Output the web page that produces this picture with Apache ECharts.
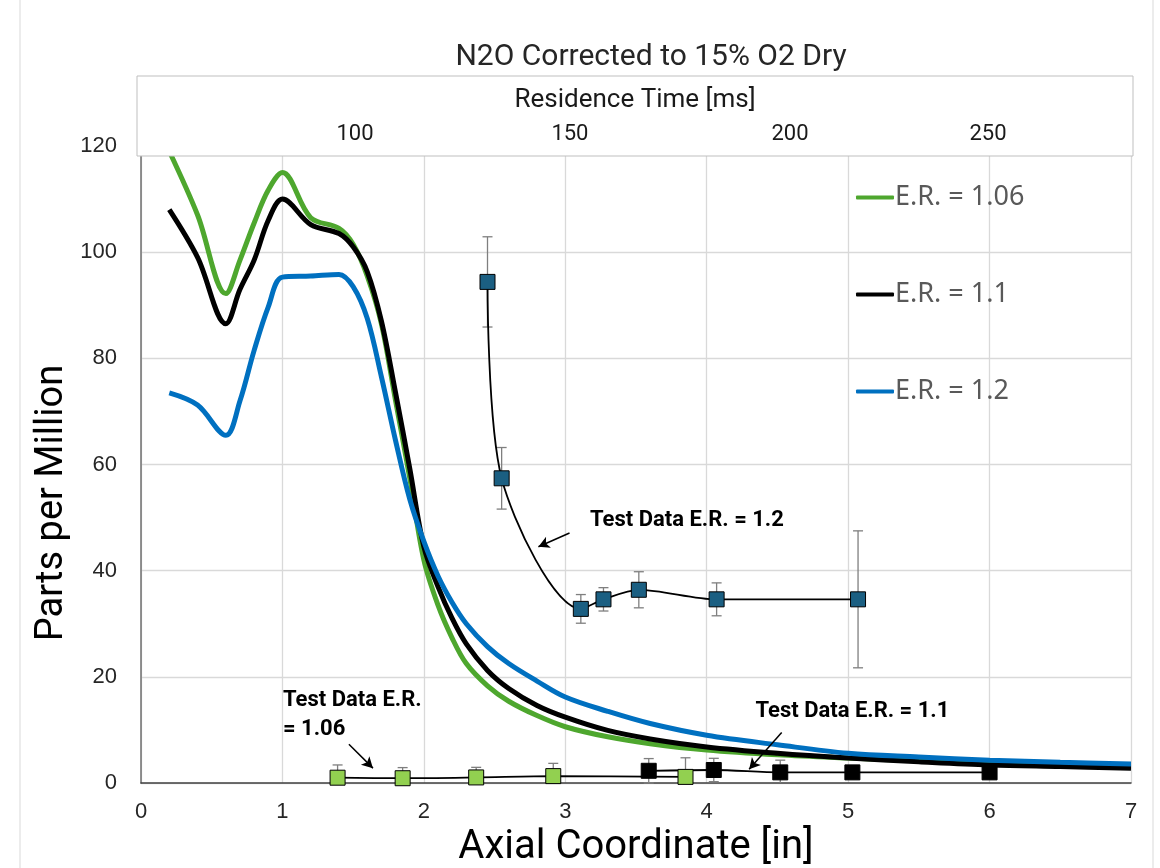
<!DOCTYPE html>
<html>
<head>
<meta charset="utf-8">
<title>N2O Corrected to 15% O2 Dry</title>
<script src="https://cdn.jsdelivr.net/npm/echarts@6/dist/echarts.min.js"></script>
<style>
  html, body { margin: 0; padding: 0; background: #fff; }
  #chart { width: 1160px; height: 868px; }
</style>
</head>
<body>
<div id="chart"></div>
<script>
// model curves (axial coordinate in inches, ppm)
const modelAxial = [0.2, 0.4, 0.6, 0.7, 0.8, 0.9, 1.0, 1.2, 1.4, 1.5, 1.6, 1.7, 1.8, 1.9, 2.0, 2.1, 2.2, 2.3, 2.45, 2.6, 2.8, 3.0, 3.3, 3.6, 4.0, 4.5, 5.0, 5.5, 6.0, 6.5, 7.0]
const er106 = [119, 107, 92.2, 98.5, 105.5, 111.7, 115, 106.5, 104.5, 101.5, 95.5, 86.5, 72, 57.5, 42, 33.5, 27.3, 22.5, 18.3, 15.4, 12.7, 10.6, 8.7, 7.4, 6.2, 5.3, 4.7, 4.2, 3.7, 3.3, 3.0]
const er110 = [108, 99, 86.5, 93, 98.5, 106, 110, 105.2, 103.5, 101, 96.3, 87, 73.5, 59.3, 44.5, 37, 31, 26.2, 21.2, 17.8, 14.6, 12.4, 9.9, 8.3, 6.8, 5.6, 4.7, 4.0, 3.4, 3.1, 2.8]
const er120 = [73.5, 71.2, 65.5, 72, 81.5, 89.7, 95.3, 95.5, 95.8, 93.5, 87.5, 76.5, 64.5, 53.5, 45.5, 39, 34, 30, 25.7, 22.5, 19.2, 16.2, 13.5, 11.2, 9.0, 7.2, 5.6, 4.9, 4.3, 3.9, 3.6]

// test data with error (half range)
const test120X = [2.45, 2.55, 3.11, 3.27, 3.52, 4.07, 5.07]
const test120Y = [94.4, 57.4, 32.8, 34.6, 36.4, 34.6, 34.6]
const test120Err = [8.5, 5.8, 2.7, 2.2, 3.4, 3.1, 12.9]

const test106X = [1.39, 1.85, 2.37, 2.915, 3.85]
const test106Y = [1.0, 0.9, 1.05, 1.3, 1.15]
const test106Err = [2.4, 2.0, 1.9, 2.4, 3.6]

const test110X = [3.59, 4.05, 4.52, 5.03, 6.0]
const test110Y = [2.3, 2.45, 2.0, 2.0, 2.0]
const test110Err = [2.3, 2.2, 2.3, 0.6, 0.3]

// secondary (top) axis: residence time labels and where they sit along the axial axis
const residenceTimeLabels = [100, 150, 200, 250]
const residenceTimeAt = [1.513, 3.033, 4.589, 5.989]

// annotations: label position, arrow start -> arrow end
const note120 = { text: 'Test Data E.R. = 1.2', at: [3.86, 49.4], arrow: [[3.03, 47.1], [2.81, 44.5]] }
const note106 = { text: 'Test Data E.R.\n= 1.06', at: [1.0, 12.9], arrow: [[1.47, 7.3], [1.64, 2.8]] }
const note110 = { text: 'Test Data E.R. = 1.1', at: [5.03, 13.4], arrow: [[4.53, 9.5], [4.30, 2.6]] }

const chart = echarts.init(document.getElementById('chart'), null, { renderer: 'canvas' })

function pairs(xs, ys) {
  return xs.map((x, i) => [x, ys[i]])
}

function modelSeries(name, ys, color) {
  return {
    name,
    type: 'line',
    data: pairs(modelAxial, ys),
    smooth: 0.35,
    showSymbol: false,
    lineStyle: { color, width: 5 },
    itemStyle: { color },
    z: 2
  }
}

function noteMarks(note) {
  return {
    markLine: {
      silent: true,
      symbol: ['none', 'arrow'],
      symbolSize: [9, 11],
      lineStyle: { color: '#000', width: 1.5, type: 'solid' },
      label: { show: false },
      data: [[{ coord: note.arrow[0] }, { coord: note.arrow[1] }]]
    },
    markPoint: {
      silent: true,
      symbol: 'circle',
      symbolSize: 1,
      itemStyle: { color: 'rgba(0,0,0,0)' },
      data: [{ coord: note.at }]
    }
  }
}

function testSeries(name, xs, ys, fill, note, labelPos) {
  const marks = noteMarks(note)
  marks.markPoint.label = {
    show: true,
    position: labelPos,
    distance: 0,
    formatter: note.text,
    color: '#000',
    fontFamily: 'Roboto',
    fontWeight: 'bold',
    fontSize: 22,
    lineHeight: 29,
    align: labelPos === 'right' ? 'left' : 'center'
  }
  return Object.assign({
    name,
    type: 'line',
    data: pairs(xs, ys),
    smooth: 0.3,
    symbol: 'rect',
    symbolSize: 15,
    showSymbol: true,
    lineStyle: { color: '#000', width: 1.8 },
    itemStyle: { color: fill, borderColor: '#000', borderWidth: 1 },
    z: 4
  }, marks)
}

function errorSeries(xs, ys, errs) {
  return {
    type: 'custom',
    silent: true,
    z: 3,
    data: xs.map((x, i) => [x, Math.max(0, ys[i] - errs[i]), ys[i] + errs[i], ys[i] - errs[i] >= 0 ? 1 : 0]),
    encode: { x: 0, y: [1, 2] },
    renderItem(params, api) {
      const lo = api.coord([api.value(0), api.value(1)])
      const hi = api.coord([api.value(0), api.value(2)])
      const w = 5
      const style = { stroke: '#7f7f7f', lineWidth: 1.3 }
      const children = [
        { type: 'line', shape: { x1: hi[0], y1: hi[1], x2: lo[0], y2: lo[1] }, style },
        { type: 'line', shape: { x1: hi[0] - w, y1: hi[1], x2: hi[0] + w, y2: hi[1] }, style }
      ]
      if (api.value(3)) {
        children.push({ type: 'line', shape: { x1: lo[0] - w, y1: lo[1], x2: lo[0] + w, y2: lo[1] }, style })
      }
      return { type: 'group', children }
    }
  }
}

const labelFont = "'Liberation Sans', Arial, sans-serif"

const option = {
  backgroundColor: '#fff',
  animation: false,
  title: {
    text: 'N2O Corrected to 15% O2 Dry',
    left: 646,
    top: 37,
    textAlign: 'center',
    textStyle: { fontFamily: 'Roboto', fontSize: 30, fontWeight: 'normal', color: '#262626' }
  },
  legend: {
    data: ['E.R. = 1.06', 'E.R. = 1.1', 'E.R. = 1.2'],
    orient: 'vertical',
    left: 851,
    top: 176,
    icon: 'roundRect',
    itemWidth: 38,
    itemHeight: 4,
    itemGap: 64,
    textStyle: { fontFamily: "'Noto Sans', sans-serif", fontSize: 27, color: '#595959', lineHeight: 33, padding: [0, 0, 0, -4] }
  },
  grid: [
    { left: 141, right: 29, top: 146, bottom: 85, outerBoundsMode: 'none' },
    {
      left: 137, top: 76, width: 996, height: 80, outerBoundsMode: 'none',
      show: true, backgroundColor: '#fff', borderColor: '#bfbfbf', borderWidth: 1, z: 10
    }
  ],
  xAxis: [
    {
      type: 'value',
      gridIndex: 0,
      min: 0,
      max: 7,
      interval: 1,
      name: 'Axial Coordinate [in]',
      nameLocation: 'middle',
      nameGap: 43,
      nameTextStyle: { fontFamily: 'Roboto', fontSize: 40, color: '#000' },
      axisLine: { lineStyle: { color: '#404040', width: 1.5 } },
      axisTick: { show: false },
      axisLabel: { fontFamily: labelFont, fontSize: 22, color: '#262626', margin: 18 },
      splitLine: { show: true, lineStyle: { color: '#d9d9d9', width: 1.3 } }
    },
    {
      type: 'value',
      gridIndex: 1,
      min: -0.028,
      max: 7.014,
      z: 11,
      name: 'Residence Time [ms]',
      nameLocation: 'middle',
      nameGap: -69,
      nameTextStyle: { fontFamily: 'Roboto', fontSize: 26, color: '#1a1a1a' },
      axisLine: { show: false },
      axisTick: { show: false },
      splitLine: { show: false },
      axisLabel: {
        inside: true,
        margin: 11,
        customValues: residenceTimeAt,
        fontFamily: 'Roboto',
        fontSize: 22,
        color: '#1a1a1a',
        formatter: (v) => {
          let best = 0
          residenceTimeAt.forEach((p, i) => {
            if (Math.abs(p - v) < Math.abs(residenceTimeAt[best] - v)) best = i
          })
          return String(residenceTimeLabels[best])
        }
      }
    }
  ],
  yAxis: [
    {
      type: 'value',
      gridIndex: 0,
      min: 0,
      max: 120,
      interval: 20,
      axisLine: { show: true, lineStyle: { color: '#6f6f6f', width: 1.5 } },
      axisTick: { show: false },
      axisLabel: { fontFamily: labelFont, fontSize: 22, color: '#262626', margin: 24 },
      splitLine: { show: true, lineStyle: { color: '#d9d9d9', width: 1.3 } }
    },
    { type: 'value', gridIndex: 1, min: 0, max: 1, show: false }
  ],
  graphic: [
    {
      type: 'text',
      x: 52,
      y: 503,
      rotation: Math.PI / 2,
      style: {
        text: 'Parts per Million',
        fontFamily: 'Roboto',
        fontSize: 38,
        fill: '#000',
        align: 'center',
        verticalAlign: 'middle'
      }
    },
    { type: 'line', shape: { x1: 20, y1: 0, x2: 20, y2: 868 }, style: { stroke: '#d9d9d9', lineWidth: 1 } },
    { type: 'line', shape: { x1: 1153, y1: 0, x2: 1153, y2: 868 }, style: { stroke: '#d9d9d9', lineWidth: 1 } }
  ],
  series: [
    modelSeries('E.R. = 1.06', er106, '#4ea72e'),
    modelSeries('E.R. = 1.1', er110, '#000000'),
    modelSeries('E.R. = 1.2', er120, '#0070c0'),
    errorSeries(test120X, test120Y, test120Err),
    errorSeries(test106X, test106Y, test106Err),
    errorSeries(test110X, test110Y, test110Err),
    testSeries('Test Data E.R. = 1.06', test106X, test106Y, '#92d050', note106, 'right'),
    testSeries('Test Data E.R. = 1.1', test110X, test110Y, '#000000', note110, 'inside'),
    testSeries('Test Data E.R. = 1.2', test120X, test120Y, '#1b5f82', note120, 'inside')
  ]
}

chart.setOption(option)
window.addEventListener('resize', () => chart.resize())
</script>
</body>
</html>
